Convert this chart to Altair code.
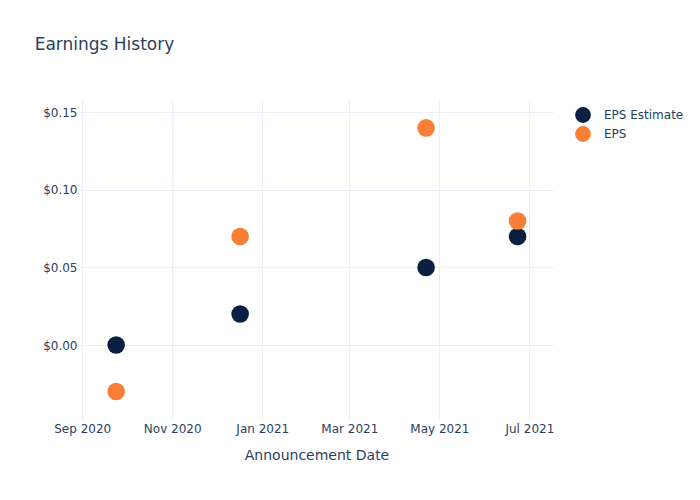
import altair as alt
import pandas as pd

dates = ["2020-09-24", "2020-12-17", "2021-04-22", "2021-06-23"]
eps_estimate = [0.00, 0.02, 0.05, 0.07]
eps_actual = [-0.03, 0.07, 0.14, 0.08]
series_names = ["EPS Estimate", "EPS"]
series_colors = ["#0b1f41", "#f97f36"]

rows = []
for d, e, a in zip(dates, eps_estimate, eps_actual):
    rows.append({"date": d, "value": e, "series": series_names[0]})
    rows.append({"date": d, "value": a, "series": series_names[1]})
df = pd.DataFrame(rows)

grid = "#ebf0f8"
text_col = "#2a3f5f"

chart = alt.Chart(df).mark_circle(size=310, opacity=1).encode(
    x=alt.X("date:T", title="Announcement Date",
            scale=alt.Scale(domain=["2020-08-30T12:00:00", "2021-07-17T00:00:00"]),
            axis=alt.Axis(format="%b %Y", tickCount={"interval": "month", "step": 2},
                          labelFontSize=12, titleFontSize=14, labelColor=text_col,
                          titleColor=text_col, titleFontWeight="normal",
                          gridColor=grid, domain=False, ticks=False, labelPadding=2,
                          titlePadding=14, labelFont="DejaVu Sans", titleFont="DejaVu Sans")),
    y=alt.Y("value:Q", title=None,
            scale=alt.Scale(domain=[-0.049, 0.158], nice=False, zero=False),
            axis=alt.Axis(format="$.2f", values=[0, 0.05, 0.10, 0.15],
                          labelFontSize=12, labelColor=text_col, gridColor=grid,
                          domain=False, ticks=False, labelPadding=3,
                          labelFont="DejaVu Sans")),
    color=alt.Color("series:N", scale=alt.Scale(domain=series_names, range=series_colors),
                    sort=series_names,
                    legend=alt.Legend(title=None, orient="none", legendX=494, legendY=6,
                                      symbolSize=250, labelFontSize=12, labelColor=text_col,
                                      labelFont="DejaVu Sans", rowPadding=2,
                                      symbolType="circle", labelOffset=12)),
).properties(
    width=473, height=321,
    title=alt.TitleParams("Earnings History", anchor="start", fontSize=17,
                          font="DejaVu Sans", fontWeight="normal", color=text_col,
                          dx=-8, offset=46),
    autosize=alt.AutoSizeParams(type="none"),
    padding={"left": 80, "top": 100, "right": 147, "bottom": 79},
).configure_view(stroke=None)

chart.save("out.html", embed_options={"renderer": "svg", "actions": False})
